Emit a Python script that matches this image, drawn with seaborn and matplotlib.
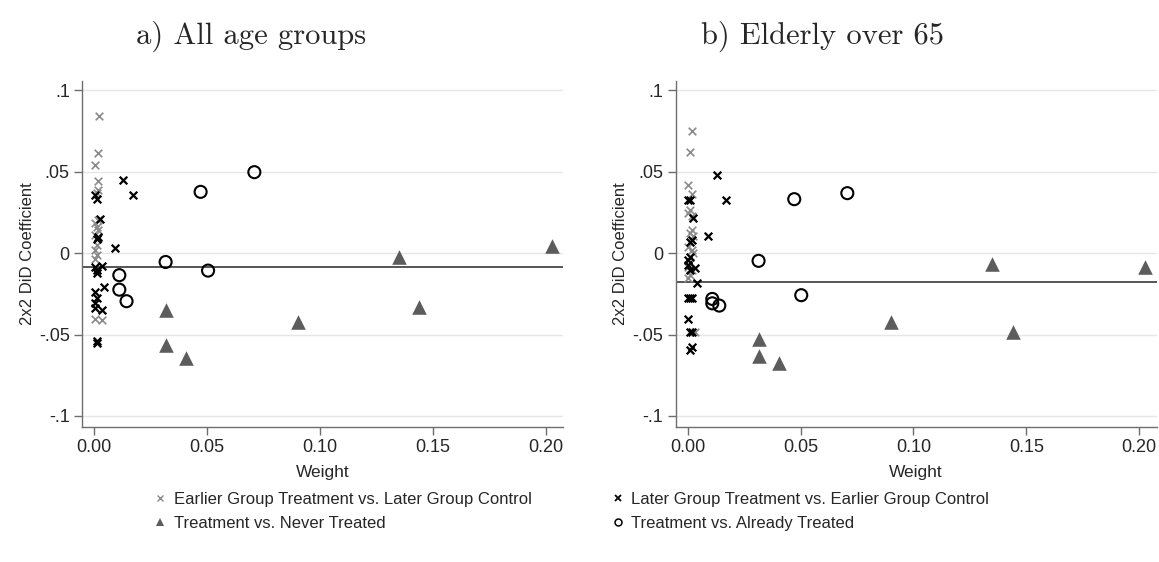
import numpy as np
import pandas as pd
import matplotlib
matplotlib.use("Agg")
import matplotlib.pyplot as plt
import seaborn as sns
from matplotlib.lines import Line2D

# ---------------- data ----------------
# Panel a) All age groups
a_early_w = [0.0022, 0.0015, 0.0003, 0.0018, 0.0018, 0.0010, 0.0018, 0.0003, 0.0010, 0.0018,
             0.0003, 0.0018, 0.0010, 0.0003, 0.0010, 0.0003, 0.0003, 0.0033]
a_early_c = [0.0844, 0.0615, 0.0539, 0.0445, 0.0390, 0.0369, 0.0205, 0.0185, 0.0164, 0.0143,
             0.0113, 0.0092, 0.0051, 0.0020, -0.0010, -0.0037, -0.0403, -0.0410]
a_late_w = [0.0128, 0.0173, 0.0092, 0.0044, 0.0003, 0.0010, 0.0025, 0.0018, 0.0010, 0.0003,
            0.0033, 0.0010, 0.0010, 0.0003, 0.0010, 0.0003, 0.0003, 0.0033, 0.0010, 0.0010]
a_late_c = [0.0447, 0.0357, 0.0033, -0.0205, 0.0359, 0.0332, 0.0209, 0.0102, 0.0088, -0.0082,
            -0.0078, -0.0103, -0.0119, -0.0240, -0.0277, -0.0308, -0.0338, -0.0351, -0.0538, -0.0554]
a_never_w = [0.2026, 0.1349, 0.1439, 0.0902, 0.0316, 0.0316, 0.0406]
a_never_c = [0.0045, -0.0025, -0.0332, -0.0424, -0.0349, -0.0564, -0.0646]
a_already_w = [0.0709, 0.0471, 0.0316, 0.0504, 0.0111, 0.0111, 0.0143]
a_already_c = [0.0498, 0.0377, -0.0054, -0.0107, -0.0135, -0.0224, -0.0295]
a_mean = -0.0087

# Panel b) Elderly over 65
b_early_w = [0.0020, 0.0010, 0.0003, 0.0018, 0.0010, 0.0003, 0.0018, 0.0018, 0.0010, 0.0025,
             0.0003, 0.0018, 0.0025, 0.0010, 0.0003, 0.0018, 0.0010, 0.0003, 0.0032]
b_early_c = [0.0748, 0.0619, 0.0420, 0.0365, 0.0266, 0.0246, 0.0229, 0.0143, 0.0123, 0.0106,
             0.0041, 0.0020, 0.0000, -0.0052, -0.0086, -0.0103, -0.0133, -0.0154, -0.0482]
b_late_w = [0.0128, 0.0171, 0.0091, 0.0003, 0.0010, 0.0025, 0.0018, 0.0010, 0.0010, 0.0003,
            0.0003, 0.0032, 0.0010, 0.0043, 0.0003, 0.0011, 0.0020, 0.0003, 0.0010, 0.0018,
            0.0018, 0.0010]
b_late_c = [0.0480, 0.0324, 0.0105, 0.0324, 0.0324, 0.0219, 0.0082, 0.0068, -0.0021, -0.0041,
            -0.0072, -0.0092, -0.0103, -0.0185, -0.0277, -0.0277, -0.0277, -0.0406, -0.0482,
            -0.0482, -0.0574, -0.0595]
b_never_w = [0.2025, 0.1349, 0.1439, 0.0899, 0.0314, 0.0314, 0.0404]
b_never_c = [-0.0082, -0.0068, -0.0482, -0.0424, -0.0525, -0.0630, -0.0677]
b_already_w = [0.0707, 0.0472, 0.0314, 0.0503, 0.0109, 0.0109, 0.0140]
b_already_c = [0.0369, 0.0332, -0.0047, -0.0258, -0.0281, -0.0308, -0.0322]
b_mean = -0.0174

groups = ["Earlier Group Treatment vs. Later Group Control",
          "Later Group Treatment vs. Earlier Group Control",
          "Treatment vs. Never Treated",
          "Treatment vs. Already Treated"]
titles = ["a) All age groups", "b) Elderly over 65"]
y_ticks = [-0.1, -0.05, 0.0, 0.05, 0.1]
y_tick_labels = ["-.1", "-.05", "0", ".05", ".1"]
x_ticks = [0.0, 0.05, 0.10, 0.15, 0.20]
x_tick_labels = ["0.00", "0.05", "0.10", "0.15", "0.20"]


def frame(ew, ec, lw, lc, nw, nc, aw, ac):
    parts = []
    for g, w, c in zip(groups, [ew, lw, nw, aw], [ec, lc, nc, ac]):
        parts.append(pd.DataFrame({"weight": w, "coef": c, "group": g}))
    return pd.concat(parts, ignore_index=True)


df_a = frame(a_early_w, a_early_c, a_late_w, a_late_c, a_never_w, a_never_c, a_already_w, a_already_c)
df_b = frame(b_early_w, b_early_c, b_late_w, b_late_c, b_never_w, b_never_c, b_already_w, b_already_c)

# ---------------- styling ----------------
sns.set_theme(style="white")
plt.rcParams["font.family"] = ["Liberation Sans", "DejaVu Sans"]

GRAY_X = "#8a8a8a"
TRI = "#5c5c5c"
AXC = "#6e6e6e"

styles = {
    groups[0]: dict(marker="x", color=GRAY_X, s=30, linewidth=1.2, zorder=3),
    groups[1]: dict(marker="x", color="black", s=30, linewidth=1.6, zorder=4),
    groups[2]: dict(marker="^", color=TRI, s=110, linewidth=0, zorder=3),
    groups[3]: dict(marker="o", facecolor="none", edgecolor="black", s=75, linewidth=1.5, zorder=3),
}

fig = plt.figure(figsize=(11.59, 5.62), dpi=100)
axes = [fig.add_axes([0.071, 0.2408, 0.415, 0.6156]),
        fig.add_axes([0.583, 0.2408, 0.415, 0.6156])]

for ax, df, mean, title in zip(axes, [df_a, df_b], [a_mean, b_mean], titles):
    for yt in y_ticks:
        ax.axhline(yt, color="#e6e6e6", linewidth=1.0, zorder=0)
    for g in groups:
        sub = df[df["group"] == g]
        sns.scatterplot(data=sub, x="weight", y="coef", ax=ax, legend=False, **styles[g])
    ax.axhline(mean, color="#555555", linewidth=1.4, zorder=2)
    ax.set_xlim(-0.0053, 0.2077)
    ax.set_ylim(-0.1066, 0.106)
    ax.set_yticks(y_ticks)
    ax.set_yticklabels(y_tick_labels)
    ax.set_xticks(x_ticks)
    ax.set_xticklabels(x_tick_labels)
    ax.tick_params(axis="both", direction="out", length=6, width=1, color=AXC,
                   labelsize=13, pad=3, left=True, bottom=True)
    ax.set_xlabel("Weight", fontsize=12.5, labelpad=6)
    ax.set_ylabel("2x2 DiD Coefficient", fontsize=12, labelpad=3)
    for side in ["top", "right"]:
        ax.spines[side].set_visible(False)
    for side in ["left", "bottom"]:
        ax.spines[side].set_color(AXC)
        ax.spines[side].set_linewidth(1.0)
    ax.grid(False)

fig.text(0.217, 0.935, titles[0], fontsize=22, family="cmr10", ha="center", va="center")
fig.text(0.710, 0.935, titles[1], fontsize=22, family="cmr10", ha="center", va="center")

handles = [
    Line2D([], [], linestyle="none", marker="x", color=GRAY_X, markersize=4.5, markeredgewidth=1.0),
    Line2D([], [], linestyle="none", marker="^", color=TRI, markersize=6, markeredgewidth=0),
    Line2D([], [], linestyle="none", marker="x", color="black", markersize=4.5, markeredgewidth=1.3),
    Line2D([], [], linestyle="none", marker="o", markerfacecolor="none", markeredgecolor="black",
           markersize=5, markeredgewidth=1.1),
]
labels = [groups[0], groups[2], groups[1], groups[3]]
fig.legend(handles, labels, ncol=2, frameon=False, fontsize=12,
           loc="center left", bbox_to_anchor=(0.121, 0.090),
           handlelength=0.6, handletextpad=0.5, columnspacing=4.9, labelspacing=0.55)

fig.savefig("out.png", dpi=100)
